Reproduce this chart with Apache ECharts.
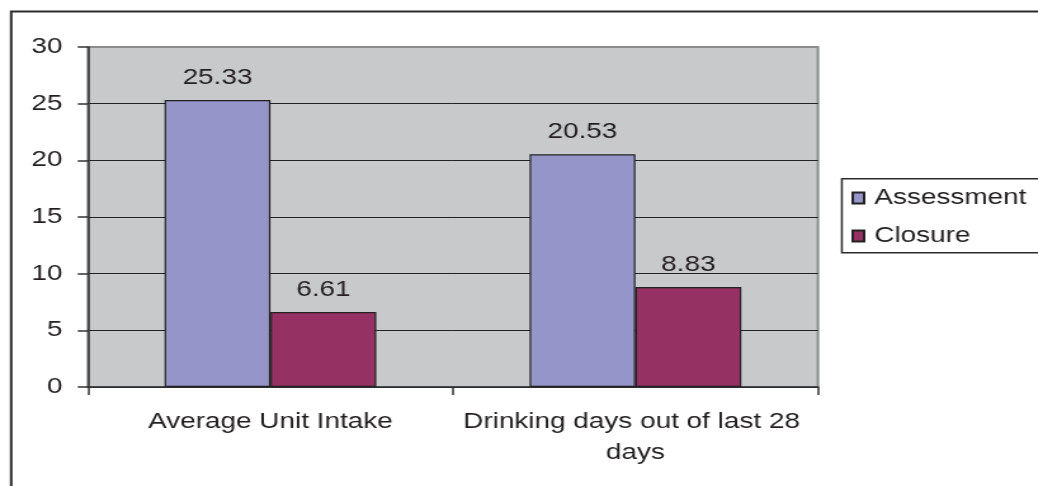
<!DOCTYPE html>
<html>
<head>
<meta charset="utf-8">
<script src="https://cdn.jsdelivr.net/npm/echarts@6/dist/echarts.min.js"></script>
<style>
  html, body { margin: 0; padding: 0; background: #ffffff; overflow: hidden; }
  #wrap { width: 1038px; height: 486px; overflow: hidden; }
  /* chart is laid out narrow and widened, giving the broad letterforms of the print */
  #chart { width: 818px; height: 486px; transform-origin: 0 0; transform: scaleX(1.2689); }
</style>
</head>
<body>
<div id="wrap"><div id="chart"></div></div>
<script>
const categories = ['Average Unit Intake', 'Drinking days out of last 28 days'];
const seriesNames = ['Assessment', 'Closure'];
const assessmentValues = [25.33, 20.53];
const closureValues = [6.61, 8.83];
const yTicks = { min: 0, max: 30, interval: 5 };

const FONT = '"Liberation Sans", Arial, sans-serif';
const TEXT = '#231f20';

const chart = echarts.init(document.getElementById('chart'), null, { renderer: 'canvas' });

function barSeries(name, values, color) {
  return {
    name: name,
    type: 'bar',
    data: values,
    barGap: '0%',
    barCategoryGap: '42%',
    itemStyle: { color: color, borderColor: '#222222', borderWidth: 1.2 },
    label: {
      show: true,
      position: 'top',
      distance: 11,
      fontFamily: FONT,
      fontSize: 22,
      color: TEXT,
      formatter: p => p.value.toFixed(2)
    }
  };
}

chart.setOption({
  animation: false,
  backgroundColor: '#ffffff',
  graphic: [
    {
      type: 'rect', left: 6.3, top: 9, z: 0, silent: true,
      shape: { width: 900, height: 600 },
      style: { fill: 'none', stroke: '#2a2a2a', lineWidth: 2 }
    },
    {
      type: 'rect', left: 662.7, top: 178, z: 0, silent: true,
      shape: { width: 300, height: 74 },
      style: { fill: '#ffffff', stroke: '#2a2a2a', lineWidth: 1.5 }
    }
  ],
  grid: {
    left: 69.3, right: 173.4, top: 47, bottom: 99,
    show: true, backgroundColor: '#c8c9cb', borderColor: '#8c8c8c', borderWidth: 2
  },
  legend: {
    data: seriesNames,
    orient: 'vertical',
    left: 671, top: 186,
    padding: 0,
    itemGap: 14,
    itemWidth: 9, itemHeight: 11,
    icon: 'rect',
    textStyle: { fontFamily: FONT, fontSize: 22, color: TEXT, lineHeight: 24, padding: [0, 0, 0, 3] }
  },
  xAxis: {
    type: 'category',
    data: categories,
    axisLine: { lineStyle: { color: '#333333', width: 1.5 } },
    axisTick: { show: true, length: 8, lineStyle: { color: '#333333', width: 1.5 } },
    axisLabel: {
      interval: 0, margin: 19,
      fontFamily: FONT, fontSize: 22, color: TEXT, lineHeight: 31,
      width: 280, overflow: 'break'
    },
    splitLine: { show: false }
  },
  yAxis: {
    type: 'value',
    min: yTicks.min, max: yTicks.max, interval: yTicks.interval,
    axisLine: { show: true, lineStyle: { color: '#333333', width: 1.5 } },
    axisTick: { show: true, length: 8, lineStyle: { color: '#333333', width: 1.5 } },
    axisLabel: { margin: 20, fontFamily: FONT, fontSize: 22, color: TEXT },
    splitLine: {
      show: true,
      lineStyle: { color: ['#222222', '#222222', '#222222', '#222222', '#222222', '#222222', '#8c8c8c'], width: 1 }
    }
  },
  series: [
    barSeries(seriesNames[0], assessmentValues, '#9595c9'),
    barSeries(seriesNames[1], closureValues, '#963163')
  ]
});
</script>
</body>
</html>
